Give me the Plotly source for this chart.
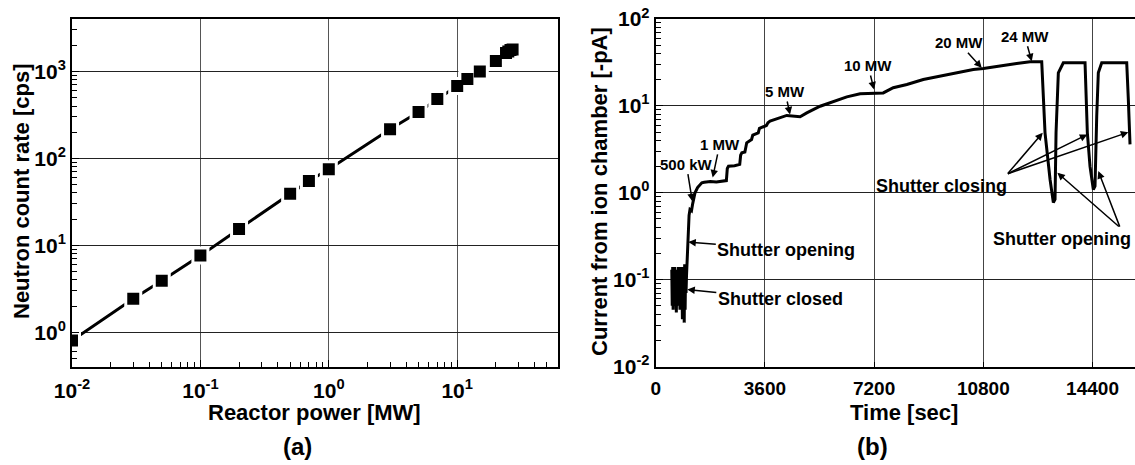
import plotly.graph_objects as go

# (a) neutron count rate against reactor power
power_mw = [0.01, 0.03, 0.05, 0.1, 0.2, 0.5, 0.7, 1, 3, 5, 7, 10, 12, 15, 20, 24, 25, 26, 27]
count_cps = [0.80, 2.43, 3.9, 7.6, 15.4, 39, 55, 75, 216, 341, 482, 681, 820, 1000, 1320,
             1630, 1700, 1760, 1790]

# (b) ion chamber current against time
time_sec = [530, 545, 560, 575, 590, 605, 620, 640, 660, 680, 700, 720, 740, 760, 780, 800,
            820, 840, 860, 880, 895, 910, 925, 940, 955, 970, 985, 1000, 1015,
            1030, 1050, 1075, 1100, 1130, 1180, 1220, 1250, 1296, 1380, 1460, 1520, 1600,
            1800, 2000, 2200, 2330,
            2360, 2400, 2600, 2770, 2800, 2840, 2940, 2980, 3000, 3160, 3200, 3380, 3420,
            3650, 3700, 3770, 4100, 4320, 4760, 4980, 5420, 5860, 6300, 6740, 7200, 7500,
            7830, 8280, 8820, 9370, 9920, 10470, 10800, 11240, 11900, 12340, 12725,
            12834, 13000, 13108, 13164, 13197, 13273, 13437, 13800, 14153,
            14229, 14317, 14426, 14482, 14538, 14591, 14703, 15100, 15527,
            15580, 15636]
current_pa = [0.13, 0.05, 0.14, 0.045, 0.12, 0.06, 0.14, 0.05, 0.13, 0.042, 0.11, 0.06, 0.14,
              0.05, 0.13, 0.045, 0.14, 0.06, 0.12, 0.035, 0.14, 0.05, 0.13, 0.032, 0.15, 0.045,
              0.12, 0.07, 0.11,
              0.15, 0.3, 0.45, 0.55, 0.64, 0.62, 0.75, 0.84, 1.0, 1.15, 1.25, 1.3, 1.32, 1.35,
              1.33, 1.36, 1.38,
              1.9, 2.02, 2.05, 2.12, 2.7, 2.89, 2.95, 3.5, 3.76, 4.1, 4.6, 4.9, 5.5, 5.95, 6.4,
              6.67, 7.3, 7.76, 7.5, 8.3, 9.9, 11.3, 12.7, 13.8, 14.1, 14.1, 16.2, 17.6, 20.1,
              22, 24, 26.2, 26.9, 28.6, 30.8, 32.2, 32.2,
              4.9, 1.42, 0.77, 0.84, 4.9, 24, 31.3, 31.5, 31.3,
              4.9, 2.02, 1.09, 1.19, 7.6, 24, 31.3, 31.5, 31.3,
              11.9, 3.6]

time_ticks = [0, 3600, 7200, 10800, 14400]

W, H = 1135, 465
FONT = "Liberation Sans, Arial, sans-serif"


def fx(p):  # pixel -> paper x
    return p / W


def fy(p):  # pixel -> paper y
    return 1 - p / H


fig = go.Figure()

# line, white halo (gaps round the symbols), then the symbols
fig.add_trace(go.Scatter(x=power_mw, y=count_cps, mode="lines",
                         line=dict(color="black", width=3), xaxis="x", yaxis="y"))
fig.add_trace(go.Scatter(x=power_mw, y=count_cps, mode="markers",
                         marker=dict(symbol="square", size=18, color="white"),
                         xaxis="x", yaxis="y"))
fig.add_trace(go.Scatter(x=power_mw, y=count_cps, mode="markers",
                         marker=dict(symbol="square", size=12, color="black"),
                         xaxis="x", yaxis="y"))

fig.add_trace(go.Scatter(x=time_sec, y=current_pa, mode="lines",
                         line=dict(color="black", width=3), xaxis="x2", yaxis="y2"))

ydom = [fy(366.5), fy(19)]
log_tick = dict(size=21, color="black", family=FONT, weight="bold")
minor = dict(ticks="inside", ticklen=5, tickcolor="black", tickwidth=1, dtick="D1", showgrid=False)

fig.update_layout(
    width=W, height=H,
    margin=dict(l=0, r=0, t=0, b=0, autoexpand=False),
    paper_bgcolor="white", plot_bgcolor="white",
    showlegend=False,
    font=dict(family=FONT, color="black", weight="bold"),
    xaxis=dict(type="log", domain=[fx(72), fx(558)], range=[-2.0, 1.785],
               tickvals=[0.01, 0.1, 1, 10],
               ticktext=["10<sup>-2</sup>", "10<sup>-1</sup>", "10<sup>0</sup>", "10<sup>1</sup>"],
               tickfont=log_tick, ticks="inside", ticklen=7, tickwidth=1, tickcolor="black",
               ticklabelstandoff=4,
               minor=minor, showgrid=True, gridcolor="#555", gridwidth=1,
               showline=True, linecolor="black", linewidth=2, mirror=True,
               zeroline=False, anchor="y", automargin=False),
    yaxis=dict(type="log", domain=ydom, range=[-0.395, 3.603],
               tickvals=[1, 10, 100, 1000],
               ticktext=["10<sup>0</sup>", "10<sup>1</sup>", "10<sup>2</sup>", "10<sup>3</sup>"],
               tickfont=log_tick, ticks="inside", ticklen=7, tickwidth=1, tickcolor="black",
               minor=minor, showgrid=True, gridcolor="#222", gridwidth=1,
               showline=True, linecolor="black", linewidth=2, mirror=True,
               zeroline=False, anchor="x", automargin=False),
    xaxis2=dict(domain=[fx(655.7), 1.0], range=[0, 15800],
                tickvals=time_ticks, ticktext=[str(t) for t in time_ticks],
                tickfont=dict(size=19, color="black", family=FONT, weight="bold"),
                ticks="inside", ticklen=5, tickwidth=1, tickcolor="black",
                ticklabelstandoff=4,
                showgrid=True, gridcolor="#444", gridwidth=1,
                showline=True, linecolor="black", linewidth=2, mirror=True,
                zeroline=False, anchor="y2", automargin=False),
    yaxis2=dict(type="log", domain=ydom, range=[-2, 2],
                tickvals=[0.01, 0.1, 1, 10, 100],
                ticktext=["10<sup>-2</sup>", "10<sup>-1</sup>", "10<sup>0</sup>",
                          "10<sup>1</sup>", "10<sup>2</sup>"],
                tickfont=log_tick, ticks="inside", ticklen=7, tickwidth=1, tickcolor="black",
                minor=minor, showgrid=True, gridcolor="#222", gridwidth=1,
                showline=True, linecolor="black", linewidth=2, mirror=False,
                zeroline=False, anchor="x2", automargin=False),
)

annotations = []

# axis titles and panel labels
for text, x, y, angle, size in [
    ("Reactor power [MW]", 314, 412, 0, 22),
    ("Time [sec]", 904, 412, 0, 22),
    ("Neutron count rate [cps]", 22, 192, -90, 22),
    ("Current from ion chamber [-pA]", 600, 192, -90, 22),
    ("(a)", 297, 446, 0, 24),
    ("(b)", 872, 446, 0, 24),
]:
    annotations.append(dict(text=text, x=fx(x), y=fy(y), xref="paper", yref="paper",
                            showarrow=False, textangle=angle, xanchor="center", yanchor="middle",
                            font=dict(size=size, family=FONT, color="black", weight="bold")))

arrow = dict(xref="x2", yref="y2", showarrow=True, arrowhead=2, arrowsize=1,
             arrowwidth=1.5, arrowcolor="black", axref="pixel", ayref="pixel")

# power level labels: (text, head time, head log10 current, dx, dy)
for text, hx, hy, dx, dy in [
    ("500 kW", 1207, -0.097, -6, -37),
    ("1 MW", 1879, 0.176, 7, -33),
    ("5 MW", 4428, 0.901, -5, -23),
    ("10 MW", 7197, 1.189, -6, -24),
    ("20 MW", 10747, 1.438, -23, -25),
    ("24 MW", 12396, 1.514, -7, -25),
]:
    annotations.append(dict(arrow, text=text, x=hx, y=hy, ax=dx, ay=dy,
                            font=dict(size=15, family=FONT, color="black", weight="bold")))

lab = dict(size=18, family=FONT, color="black", weight="bold")
annotations.append(dict(arrow, text="Shutter opening", x=1075, y=-0.568, ax=98, ay=8, font=lab))
annotations.append(dict(arrow, text="Shutter closed", x=1042, y=-1.113, ax=93, ay=10, font=lab))

annotations.append(dict(text="Shutter closing", x=9429, y=0.076, xref="x2", yref="y2",
                        showarrow=False, font=lab))
for hx, hy, dx, dy in [(12758, 0.690, -36, 42), (14228, 0.671, -81, 40), (15580, 0.697, -122, 42)]:
    annotations.append(dict(arrow, text="", x=hx, y=hy, ax=dx, ay=dy))

annotations.append(dict(text="Shutter opening", x=13385, y=-0.537, xref="x2", yref="y2",
                        showarrow=False, font=lab))
for hx, hy, dx, dy in [(13240, 0.230, 63, 55), (14591, 0.249, 22, 57)]:
    annotations.append(dict(arrow, text="", x=hx, y=hy, ax=dx, ay=dy))

fig.update_layout(annotations=annotations)

# the page's default 8px body margin would push the figure off the window
fig.write_html("out.html", config={"displayModeBar": False},
               post_script="document.body.style.margin='0';")
